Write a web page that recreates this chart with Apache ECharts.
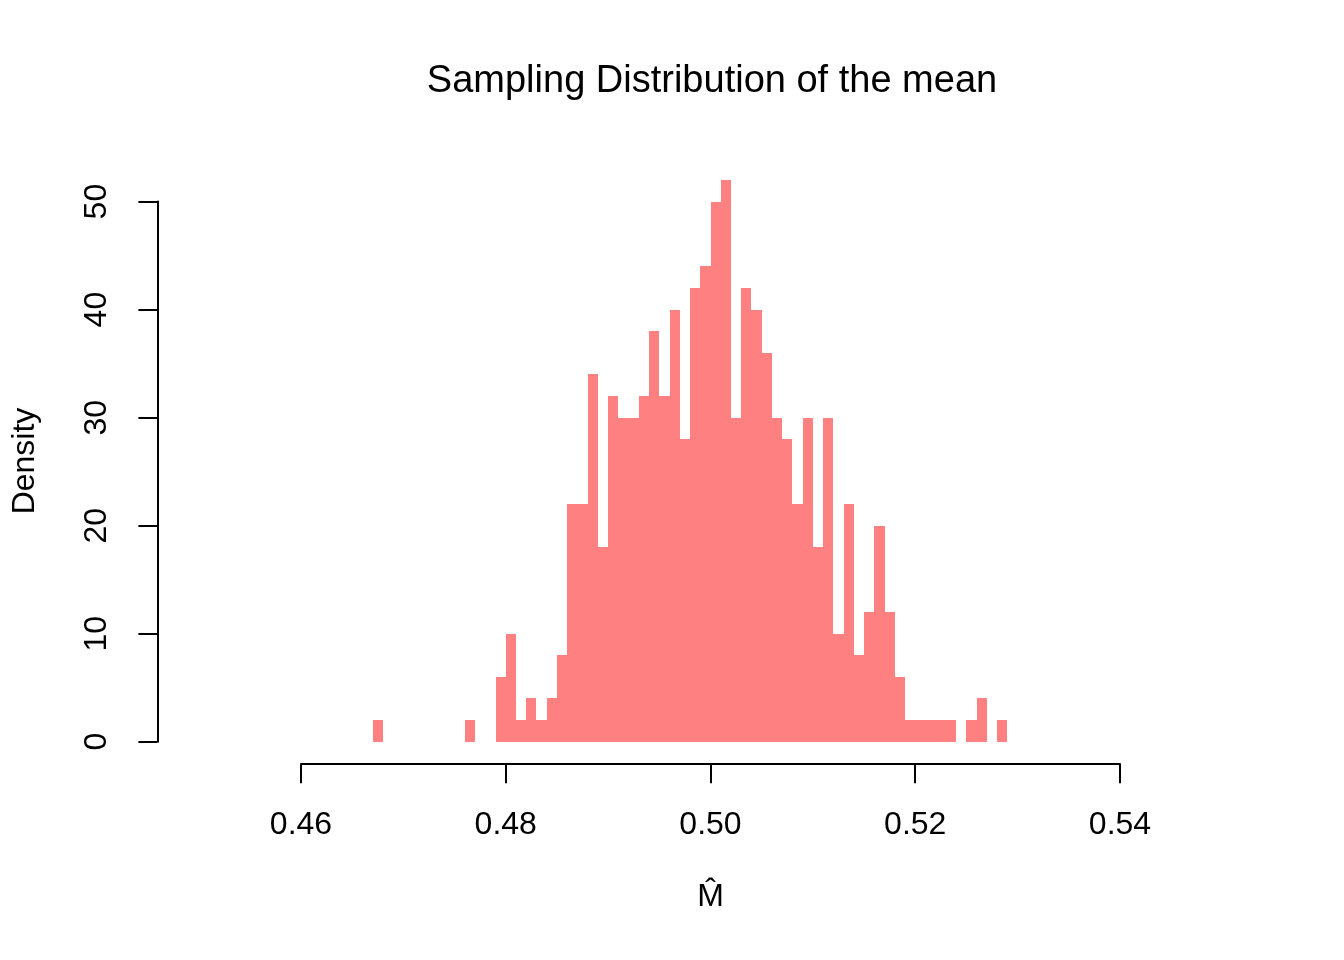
<!DOCTYPE html>
<html lang="en">
  <head>
    <meta charset="UTF-8" />
    <title>Sampling Distribution of the mean</title>
    <style>
      * {
        margin: 0;
        padding: 0;
      }
      html,
      body {
        width: 100%;
        height: 100%;
        background: #fff;
      }
      #chart {
        width: 1344px;
        height: 960px;
      }
    </style>
    <script src="https://cdn.jsdelivr.net/npm/echarts@6/dist/echarts.min.js"></script>
  </head>
  <body>
    <div id="chart"></div>
    <script>
      // histogram bins: left edge of each 0.001-wide bin and its density
      var binStart = 0.467;
      var binWidth = 0.001;
      var densities = [
        2, 0, 0, 0, 0, 0, 0, 0, 0, 2, 0, 0, 6, 10, 2, 4, 2, 4, 8, 22, 22, 34,
        18, 32, 30, 30, 32, 38, 32, 40, 28, 42, 44, 50, 52, 30, 42, 40, 36, 30,
        28, 22, 30, 18, 30, 10, 22, 8, 12, 20, 12, 6, 2, 2, 2, 2, 2, 0, 2, 4,
        0, 2,
      ];
      var xTicks = [0.46, 0.48, 0.5, 0.52, 0.54];
      var yTicks = [0, 10, 20, 30, 40, 50];

      var font = "'Liberation Sans', Arial, Helvetica, sans-serif";

      var bins = [];
      for (var i = 0; i < densities.length; i++) {
        var x0 = +(binStart + i * binWidth).toFixed(3);
        var x1 = +(x0 + binWidth).toFixed(3);
        if (densities[i] > 0) bins.push([x0, x1, densities[i]]);
      }

      function renderBin(params, api) {
        var p0 = api.coord([api.value(0), api.value(2)]);
        var p1 = api.coord([api.value(1), 0]);
        // snap edges to whole pixels so neighbouring bins meet without seams
        var left = Math.round(p0[0]);
        var right = Math.round(p1[0]);
        var top = Math.round(p0[1]);
        var bottom = Math.round(p1[1]);
        return {
          type: "rect",
          shape: { x: left, y: top, width: right - left, height: bottom - top },
          style: { fill: "#FF8080" },
        };
      }

      var option = {
        backgroundColor: "#ffffff",
        animation: false,
        title: {
          text: "Sampling Distribution of the mean",
          left: 707,
          top: 58,
          textAlign: "center",
          textStyle: {
            fontFamily: font,
            fontSize: 38,
            fontWeight: "normal",
            color: "#000",
          },
        },
        grid: {
          left: 301,
          right: 224,
          top: 201.6,
          bottom: 218.3,
        },
        graphic: [
          {
            // y axis title, centred on the plot region like R does
            type: "text",
            x: 25,
            y: 461,
            rotation: Math.PI / 2,
            style: {
              text: "Density",
              fontFamily: font,
              fontSize: 32,
              fill: "#000",
              align: "center",
              verticalAlign: "middle",
            },
          },
        ],
        xAxis: {
          type: "value",
          min: xTicks[0],
          max: xTicks[xTicks.length - 1],
          interval: 0.02,
          offset: 22.5,
          name: "M\u0302",
          nameLocation: "middle",
          nameGap: 117,
          nameTextStyle: { fontFamily: font, fontSize: 32, color: "#000" },
          splitLine: { show: false },
          axisLine: { onZero: false, lineStyle: { color: "#000", width: 2 } },
          axisTick: { length: 19, lineStyle: { color: "#000", width: 2 } },
          axisLabel: {
            fontFamily: font,
            fontSize: 32,
            color: "#000",
            margin: 45,
            formatter: function (v) {
              return v.toFixed(2);
            },
          },
        },
        yAxis: {
          type: "value",
          min: yTicks[0],
          max: yTicks[yTicks.length - 1],
          interval: 10,
          offset: 143.6,
          splitLine: { show: false },
          axisLine: { show: true, onZero: false, lineStyle: { color: "#000", width: 2 } },
          axisTick: { show: true, length: 19, lineStyle: { color: "#000", width: 2 } },
          axisLabel: {
            fontFamily: font,
            fontSize: 32,
            color: "#000",
            rotate: 90,
            margin: 44,
          },
        },
        series: [
          {
            type: "custom",
            clip: false,
            renderItem: renderBin,
            encode: { x: [0, 1], y: 2 },
            data: bins,
          },
        ],
      };

      var myChart = echarts.init(document.getElementById("chart"));
      myChart.setOption(option);
    </script>
  </body>
</html>
